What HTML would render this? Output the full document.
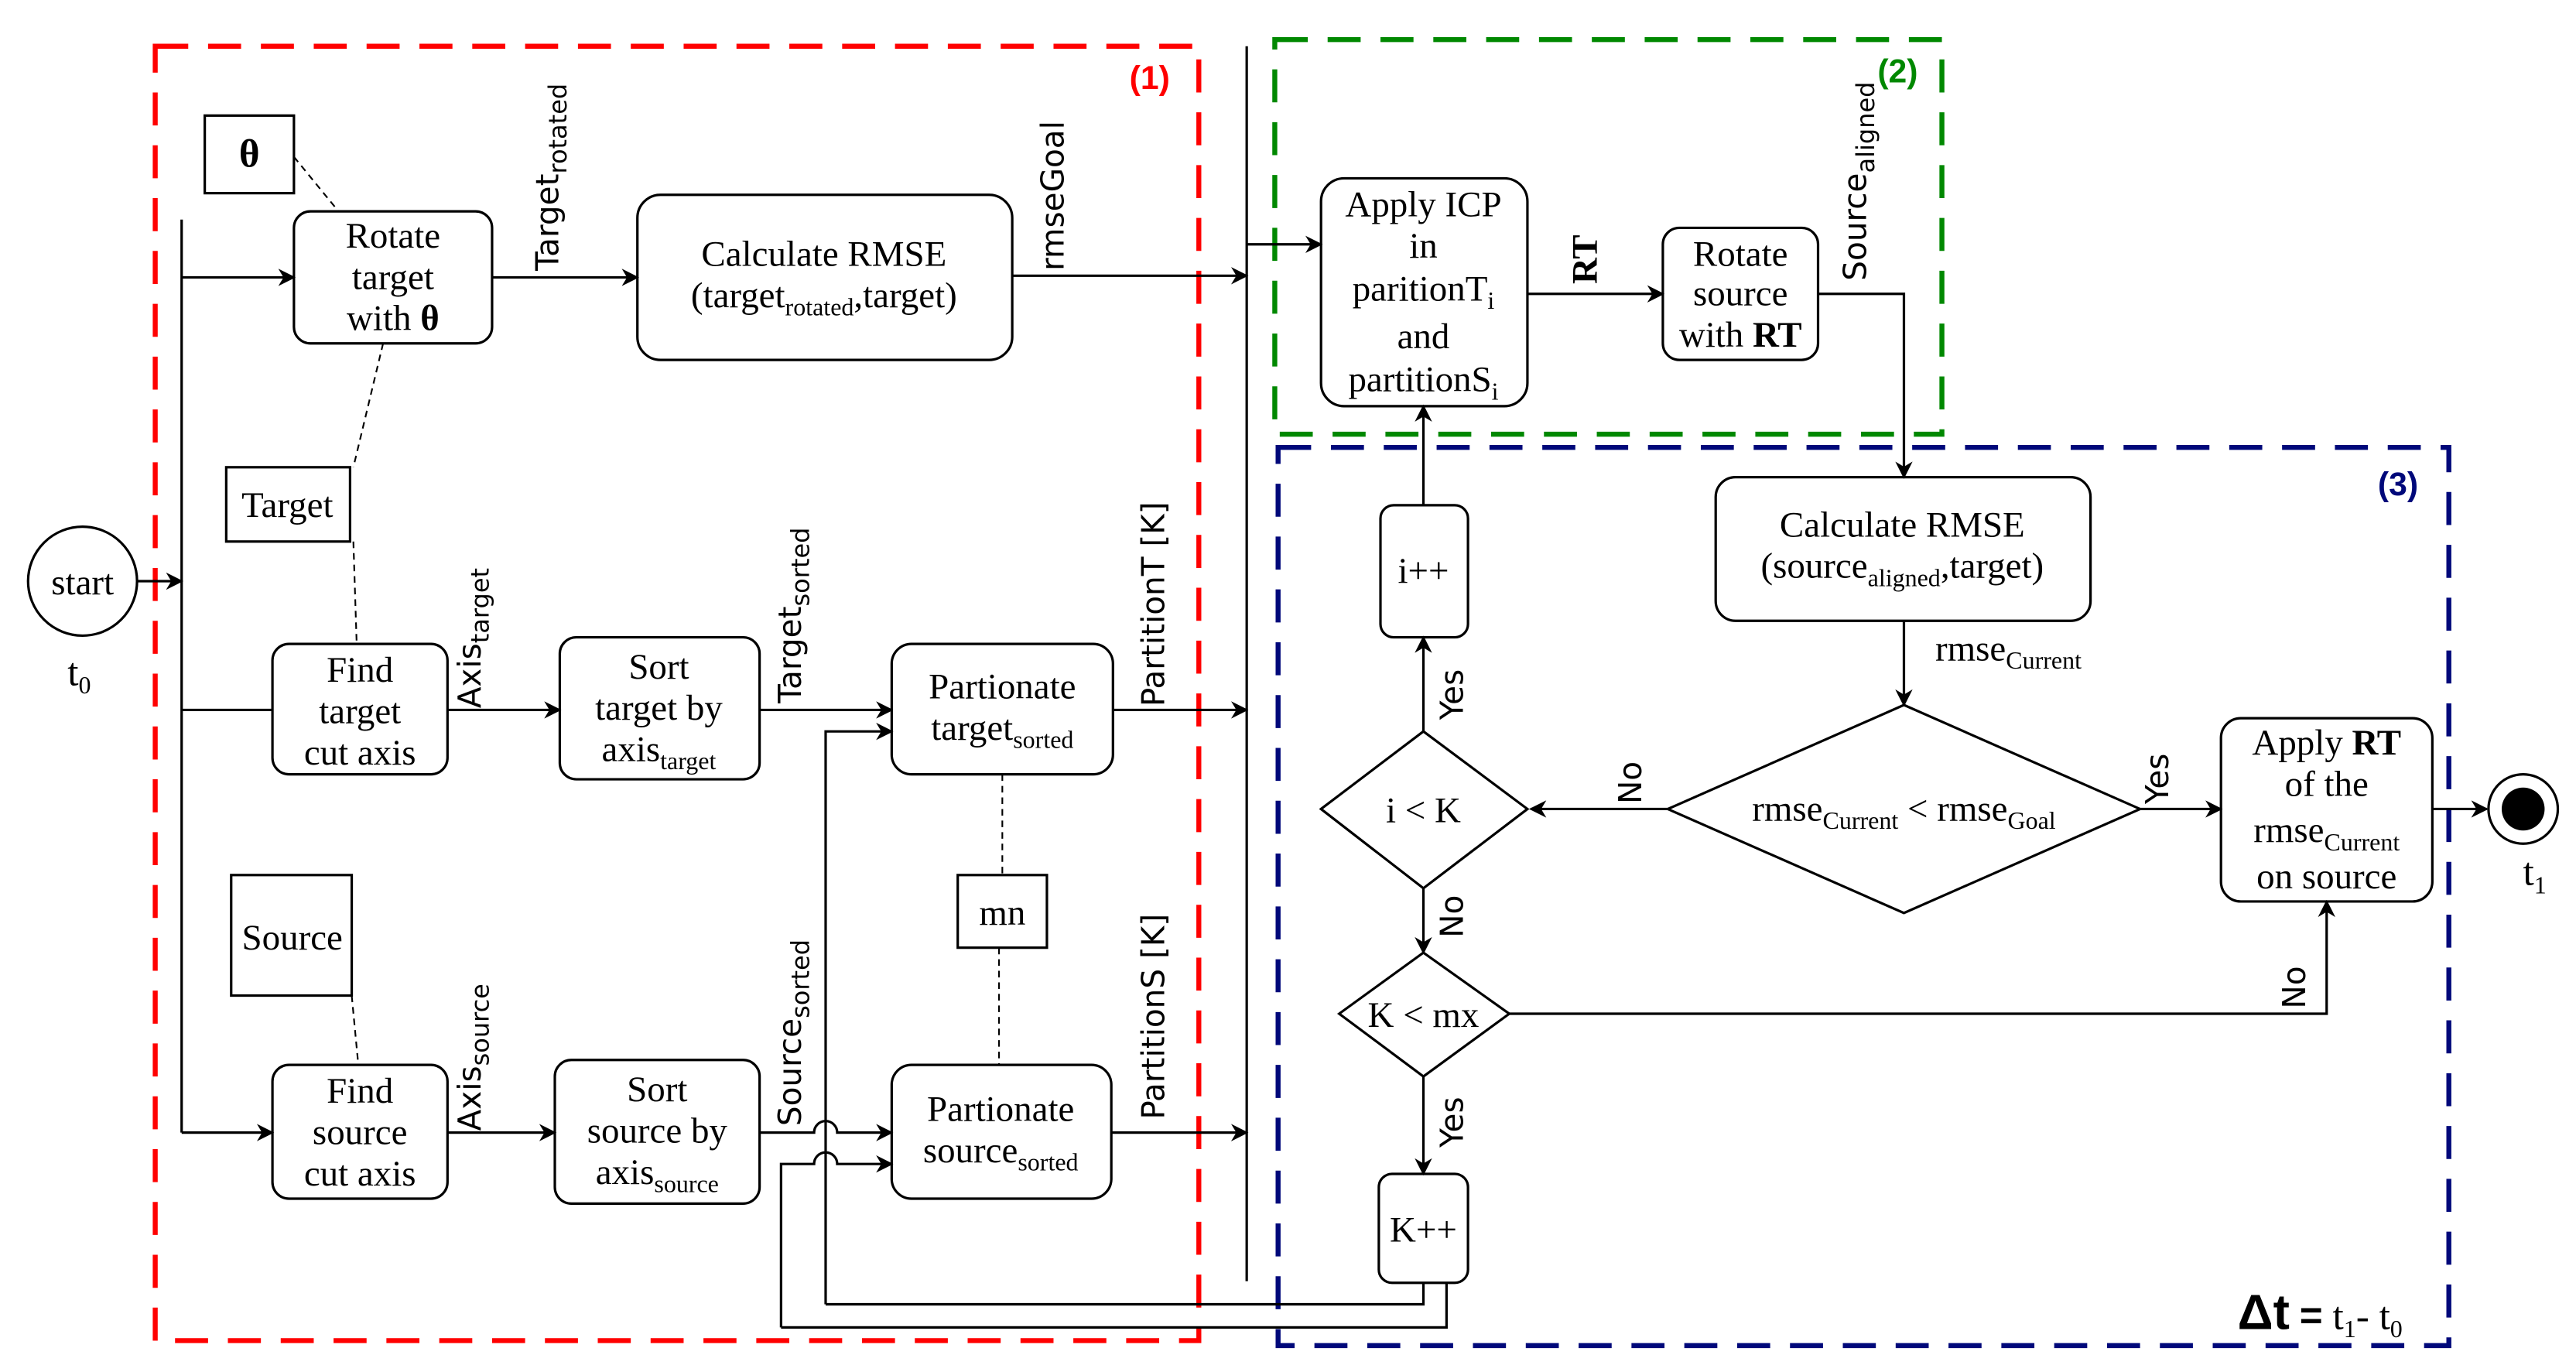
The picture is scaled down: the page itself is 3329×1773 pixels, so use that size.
<!DOCTYPE html>
<html><head><meta charset="utf-8"><style>
html,body{margin:0;padding:0;background:#fff;}
svg{display:block;}
.b{font-family:"Liberation Serif","DejaVu Serif",serif;font-size:22px;fill:#000;}
.l{font-family:"DejaVu Sans","Liberation Sans",sans-serif;font-size:19px;fill:#000;}
.s{font-size:15px;}
</style></head><body>
<svg width="3329" height="1773" viewBox="0 0 1560 831" preserveAspectRatio="none" xmlns="http://www.w3.org/2000/svg">
<defs>
<marker id="a" viewBox="0 0 10 10" refX="9" refY="5" markerWidth="7" markerHeight="7" orient="auto"><path d="M0,0 L10,5 L0,10 L3,5 z" fill="#000"/></marker>
</defs>
<rect width="1560" height="831" fill="#fff"/>
<rect x="94" y="28" width="632" height="784" fill="none" stroke="#f00" stroke-width="3" stroke-dasharray="20,12"/>
<rect x="772" y="24" width="404" height="239" fill="none" stroke="#080" stroke-width="3" stroke-dasharray="20,12"/>
<rect x="774" y="271" width="709" height="544" fill="none" stroke="#00087a" stroke-width="3" stroke-dasharray="20,12"/>
<text x="684" y="54" font-family="Liberation Sans,sans-serif" font-weight="bold" font-size="20" fill="#f00">(1)</text>
<text x="1137" y="50" font-family="Liberation Sans,sans-serif" font-weight="bold" font-size="20" fill="#080">(2)</text>
<text x="1440" y="300" font-family="Liberation Sans,sans-serif" font-weight="bold" font-size="20" fill="#00087a">(3)</text>

<g stroke="#000" stroke-width="1.5" fill="none">
<line x1="755" y1="28" x2="755" y2="776"/>
<line x1="110" y1="133" x2="110" y2="686"/>
<circle cx="50" cy="352" r="33" fill="#fff"/>
<line x1="83" y1="352" x2="110" y2="352" marker-end="url(#a)"/>
<rect x="124" y="70" width="54" height="47"/>
<g stroke-dasharray="4,3" stroke-width="1"><line x1="178" y1="95" x2="205" y2="128"/><line x1="232" y1="208" x2="214" y2="283"/><line x1="214" y1="328" x2="216" y2="390"/><line x1="213" y1="603" x2="217" y2="645"/><line x1="607" y1="469" x2="607" y2="530"/><line x1="605" y1="574" x2="605" y2="645"/></g>
<rect x="178" y="128" width="120" height="80" rx="10"/>
<line x1="110" y1="168" x2="178" y2="168" marker-end="url(#a)"/>
<line x1="298" y1="168" x2="386" y2="168" marker-end="url(#a)"/>
<rect x="386" y="118" width="227" height="100" rx="14"/>
<line x1="613" y1="167" x2="755" y2="167" marker-end="url(#a)"/>
<rect x="137" y="283" width="75" height="45"/>
<rect x="165" y="390" width="106" height="79" rx="10"/>
<line x1="110" y1="430" x2="165" y2="430"/>
<line x1="271" y1="430" x2="339" y2="430" marker-end="url(#a)"/>
<rect x="339" y="386" width="121" height="86" rx="10"/>
<line x1="460" y1="430" x2="540" y2="430" marker-end="url(#a)"/>
<rect x="540" y="390" width="134" height="79" rx="12"/>
<line x1="674" y1="430" x2="755" y2="430" marker-end="url(#a)"/>
<path d="M500,790 L500,443 L540,443" marker-end="url(#a)"/>
<rect x="580" y="530" width="54" height="44"/>
<rect x="140" y="530" width="73" height="73"/>
<rect x="165" y="645" width="106" height="81" rx="10"/>
<line x1="110" y1="686" x2="165" y2="686" marker-end="url(#a)"/>
<line x1="271" y1="686" x2="336" y2="686" marker-end="url(#a)"/>
<rect x="336" y="642" width="124" height="87" rx="10"/>
<path d="M460,686 L493,686 A7,7 0 0 1 507,686 L540,686" marker-end="url(#a)"/>
<path d="M473,804 L473,705 L493,705 A7,7 0 0 1 507,705 L540,705" marker-end="url(#a)"/>
<rect x="540" y="645" width="133" height="81" rx="12"/>
<line x1="673" y1="686" x2="755" y2="686" marker-end="url(#a)"/>
<path d="M500,790 L862,790 L862,777"/>
<path d="M473,804 L876,804 L876,777"/>
<line x1="755" y1="148" x2="800" y2="148" marker-end="url(#a)"/>
<rect x="800" y="108" width="125" height="138" rx="14"/>
<line x1="925" y1="178" x2="1007" y2="178" marker-end="url(#a)"/>
<rect x="1007" y="138" width="94" height="80" rx="10"/>
<path d="M1101,178 L1153,178 L1153,289" marker-end="url(#a)"/>
<rect x="1039" y="289" width="227" height="87" rx="12"/>
<line x1="1153" y1="376" x2="1153" y2="427" marker-end="url(#a)"/>
<polygon points="1010,490 1153,427 1296,490 1153,553"/>
<line x1="1010" y1="490" x2="927" y2="490" marker-end="url(#a)"/>
<polygon points="800,490 862,443 925,490 862,538"/>
<line x1="862" y1="443" x2="862" y2="386" marker-end="url(#a)"/>
<rect x="836" y="306" width="53" height="80" rx="8"/>
<line x1="862" y1="306" x2="862" y2="246" marker-end="url(#a)"/>
<line x1="862" y1="538" x2="862" y2="577" marker-end="url(#a)"/>
<polygon points="811,614 862,577 914,614 862,652"/>
<path d="M914,614 L1409,614 L1409,546" marker-end="url(#a)"/>
<line x1="862" y1="652" x2="862" y2="711" marker-end="url(#a)"/>
<rect x="835" y="711" width="54" height="66" rx="8"/>
<line x1="1296" y1="490" x2="1345" y2="490" marker-end="url(#a)"/>
<rect x="1345" y="435" width="128" height="111" rx="12"/>
<line x1="1473" y1="490" x2="1506" y2="490" marker-end="url(#a)"/>
<circle cx="1528" cy="490" r="21" fill="#fff"/>
</g>
<circle cx="1528" cy="490" r="13" fill="#000"/>

<g class="b" text-anchor="middle">
<text x="50" y="360">start</text>
<text x="48" y="415" font-size="24">t<tspan class="s" dy="5">0</tspan></text>
<text x="151" y="101" font-weight="bold" font-size="24">θ</text>
<text x="238" y="150">Rotate</text><text x="238" y="175">target</text><text x="238" y="200">with <tspan font-weight="bold">θ</tspan></text>
<text x="499" y="161">Calculate RMSE</text>
<text x="499" y="186">(target<tspan class="s" dy="5">rotated</tspan><tspan dy="-5">,target)</tspan></text>
<text x="174" y="313">Target</text>
<text x="218" y="413">Find</text><text x="218" y="438">target</text><text x="218" y="463">cut axis</text>
<text x="399" y="411">Sort</text><text x="399" y="436">target by</text><text x="399" y="461">axis<tspan class="s" dy="5">target</tspan></text>
<text x="607" y="423">Partionate</text><text x="607" y="448">target<tspan class="s" dy="5">sorted</tspan></text>
<text x="607" y="560">mn</text>
<text x="177" y="575">Source</text>
<text x="218" y="668">Find</text><text x="218" y="693">source</text><text x="218" y="718">cut axis</text>
<text x="398" y="667">Sort</text><text x="398" y="692">source by</text><text x="398" y="717">axis<tspan class="s" dy="5">source</tspan></text>
<text x="606" y="679">Partionate</text><text x="606" y="704">source<tspan class="s" dy="5">sorted</tspan></text>
<text x="862" y="131">Apply ICP</text><text x="862" y="156">in</text>
<text x="862" y="182">paritionT<tspan class="s" dy="5">i</tspan></text>
<text x="862" y="211">and</text>
<text x="862" y="237">partitionS<tspan class="s" dy="5">i</tspan></text>
<text x="1054" y="161">Rotate</text><text x="1054" y="185">source</text><text x="1054" y="210">with <tspan font-weight="bold">RT</tspan></text>
<text x="1152" y="325">Calculate RMSE</text>
<text x="1152" y="350">(source<tspan class="s" dy="5">aligned</tspan><tspan dy="-5">,target)</tspan></text>
<text x="1172" y="400" text-anchor="start">rmse<tspan class="s" dy="5">Current</tspan></text>
<text x="1153" y="497">rmse<tspan class="s" dy="5">Current</tspan><tspan dy="-5"> &lt; rmse</tspan><tspan class="s" dy="5">Goal</tspan></text>
<text x="862" y="498">i &lt; K</text>
<text x="862" y="353">i++</text>
<text x="862" y="622">K &lt; mx</text>
<text x="862" y="752">K++</text>
<text x="1409" y="457">Apply <tspan font-weight="bold">RT</tspan></text>
<text x="1409" y="482">of the</text>
<text x="1409" y="510">rmse<tspan class="s" dy="5">Current</tspan></text>
<text x="1409" y="538">on source</text>
<text x="1535" y="536" font-size="24">t<tspan class="s" dy="5">1</tspan></text>
<text x="1405" y="805" font-size="24"><tspan font-family="Liberation Sans,sans-serif" font-weight="bold" font-size="30">Δt</tspan> <tspan font-family="Liberation Sans,sans-serif" font-weight="bold">=</tspan> t<tspan class="s" dy="5">1</tspan><tspan dy="-5">- t</tspan><tspan class="s" dy="5">0</tspan></text>
</g>

<g class="l">
<text transform="translate(338,164) rotate(-90)">Target<tspan class="s" dy="5">rotated</tspan></text>
<text transform="translate(644,164) rotate(-90)">rmseGoal</text>
<text transform="translate(291,429) rotate(-90)">Axis<tspan class="s" dy="5">target</tspan></text>
<text transform="translate(485,426) rotate(-90)">Target<tspan class="s" dy="5">sorted</tspan></text>
<text transform="translate(705,428) rotate(-90)">PartitionT [K]</text>
<text transform="translate(291,685) rotate(-90)">Axis<tspan class="s" dy="5">source</tspan></text>
<text transform="translate(485,682) rotate(-90)">Source<tspan class="s" dy="5">sorted</tspan></text>
<text transform="translate(705,678) rotate(-90)">PartitionS [K]</text>
<text transform="translate(967,172) rotate(-90)" font-family="Liberation Serif,serif" font-weight="bold" font-size="22">RT</text>
<text transform="translate(1130,170) rotate(-90)">Source<tspan class="s" dy="5">aligned</tspan></text>
<text transform="translate(994,487) rotate(-90)">No</text>
<text transform="translate(1313,487) rotate(-90)">Yes</text>
<text transform="translate(886,436) rotate(-90)">Yes</text>
<text transform="translate(886,568) rotate(-90)">No</text>
<text transform="translate(886,695) rotate(-90)">Yes</text>
<text transform="translate(1396,611) rotate(-90)">No</text>
</g>
</svg>
</body></html>
